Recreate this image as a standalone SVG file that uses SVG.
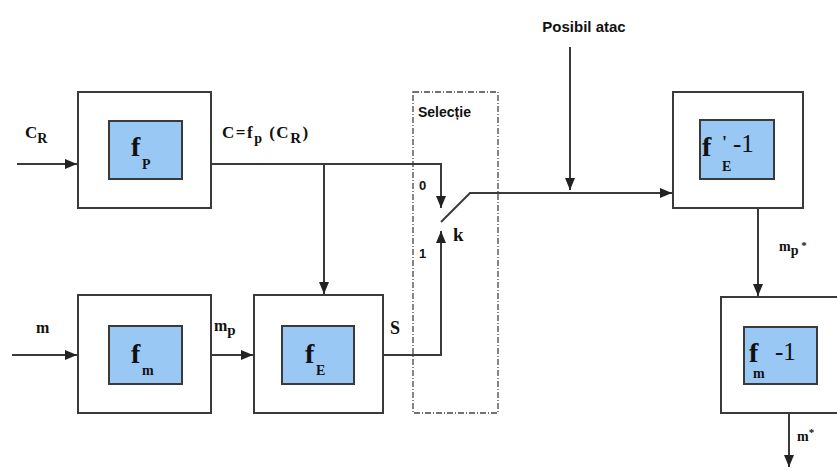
<svg xmlns="http://www.w3.org/2000/svg" width="837" height="469" viewBox="0 0 837 469">
<defs>
<style>
.outer{fill:#ffffff;stroke:#3a3a3a;stroke-width:2}
.inner{fill:#99c8f4;stroke:#3a3a3a;stroke-width:2}
.ln{fill:none;stroke:#3a3a3a;stroke-width:2}
.big{font-family:"Liberation Serif",serif;font-weight:bold;font-size:28px;fill:#111}
.inv{font-family:"Liberation Serif",serif;font-size:25px;fill:#111}
.sub{font-family:"Liberation Serif",serif;font-weight:bold;font-size:14px;fill:#111}
.lbl{font-family:"Liberation Serif",serif;font-weight:bold;font-size:17px;fill:#111}
.sm{font-family:"Liberation Serif",serif;font-weight:bold;font-size:16px;fill:#111}
.sans{font-family:"Liberation Sans",Arial,sans-serif;font-weight:bold;font-size:13px;fill:#111}
.head{font-family:"Liberation Sans",Arial,sans-serif;font-weight:bold;font-size:15px;fill:#111}
</style>
<marker id="ah" viewBox="0 0 12 10" refX="12" refY="5" markerWidth="12" markerHeight="10" orient="auto" markerUnits="userSpaceOnUse">
<path d="M0,0 L12,5 L0,10 z" fill="#222"/>
</marker>
</defs>
<rect width="837" height="469" fill="#ffffff"/>

<g id="selectie">
<rect x="413" y="92" width="85" height="321" fill="none" stroke="#444" stroke-width="1.3" stroke-dasharray="6,2,1,2"/>
<text class="sans" x="418" y="117" style="font-size:14px">Selecție</text>
</g>

<g id="connectors">
<path class="ln" d="M17,164 L77,164" marker-end="url(#ah)"/>
<path class="ln" d="M12,355 L77,355" marker-end="url(#ah)"/>
<path class="ln" d="M211,355 L253,355" marker-end="url(#ah)"/>
<path class="ln" d="M211,164 L441,164 L441,208" marker-end="url(#ah)"/>
<path class="ln" d="M324,164 L324,294" marker-end="url(#ah)"/>
<path class="ln" d="M383,355 L441,355 L441,231" marker-end="url(#ah)"/>
<path class="ln" d="M441,222 L470,193 L672,193" marker-end="url(#ah)"/>
<path class="ln" d="M570,47 L570,190" marker-end="url(#ah)"/>
<path class="ln" d="M758,208 L758,296" marker-end="url(#ah)"/>
<path class="ln" d="M789,413 L789,467" marker-end="url(#ah)"/>
</g>

<g id="labels">
<text class="lbl" x="25" y="138">C<tspan class="sub" dy="5">R</tspan></text>
<text class="sm" x="222" y="138" style="font-size:17px;letter-spacing:1.5px">C=f<tspan class="sub" dy="5">p</tspan><tspan dy="-5"> (C</tspan><tspan class="sub" dy="5" style="font-size:15px">R</tspan><tspan dy="-5">)</tspan></text>
<text class="sm" x="36" y="333">m</text>
<text class="sm" x="214" y="331">m<tspan class="sub" dy="4" style="font-size:15px">p</tspan></text>
<text class="lbl" x="390" y="334" style="font-size:18px">S</text>
<text class="sans" x="419" y="190">0</text>
<text class="sans" x="419" y="258">1</text>
<text class="lbl" x="453" y="241" style="font-size:19px">k</text>
<text class="head" x="584" y="32" text-anchor="middle">Posibil atac</text>
<text class="sm" x="779" y="251" style="font-size:14px">m<tspan class="sub" dy="4">p</tspan><tspan dy="-6" style="font-size:11px"> *</tspan></text>
<text class="sm" x="797" y="441" style="font-size:14px">m<tspan dy="-5" style="font-size:11px">*</tspan></text>
</g>

<g id="fp">
<rect class="outer" x="78" y="92" width="133" height="116"/>
<rect class="inner" x="109" y="121" width="73" height="58"/>
<text class="big" x="131" y="156">f</text>
<text class="sub" x="142" y="169">P</text>
</g>

<g id="fm">
<rect class="outer" x="78" y="295" width="133" height="118"/>
<rect class="inner" x="109" y="326" width="73" height="58"/>
<text class="big" x="131" y="363">f</text>
<text class="sub" x="142" y="375">m</text>
</g>

<g id="fE">
<rect class="outer" x="254" y="295" width="129" height="118"/>
<rect class="inner" x="282" y="326" width="72" height="58"/>
<text class="big" x="305" y="363">f</text>
<text class="sub" x="316" y="375">E</text>
</g>

<g id="fEinv">
<rect class="outer" x="673" y="92" width="130" height="116"/>
<rect class="inner" x="700" y="120" width="74" height="59"/>
<text class="big" x="702" y="156">f</text>
<text class="sub" x="722" y="149" style="font-size:18px">'</text>
<text class="inv" x="733" y="152">-1</text>
<text class="sub" x="722" y="171">E</text>
</g>

<g id="fminv">
<rect class="outer" x="721" y="297" width="130" height="116"/>
<rect class="inner" x="744" y="327" width="73" height="57"/>
<text class="big" x="749" y="362">f</text>
<text class="inv" x="775" y="360">-1</text>
<text class="sub" x="753" y="378">m</text>
</g>
</svg>
